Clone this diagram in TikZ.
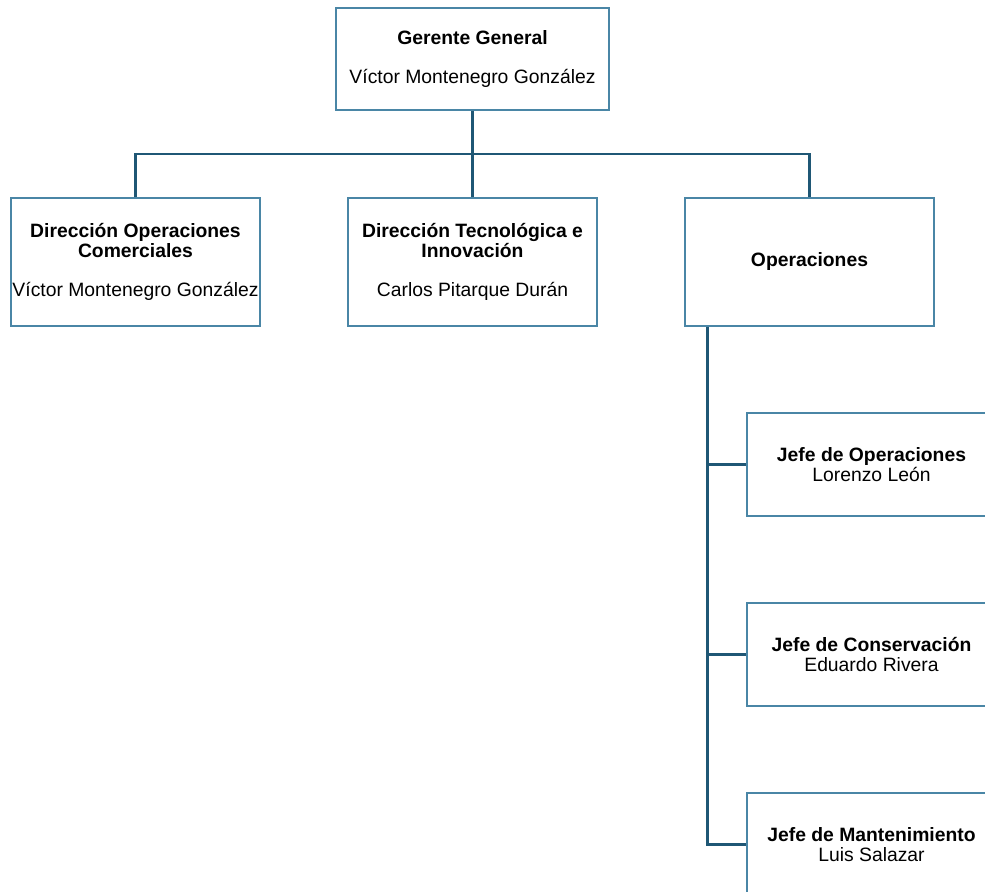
\documentclass[tikz,border=0pt]{standalone}
\usepackage{fontspec}
\setmainfont{Liberation Sans}
\usepackage{tikz}
\definecolor{boxline}{RGB}{74,134,166}
\definecolor{linkline}{RGB}{31,87,117}

\begin{document}
\begin{tikzpicture}[
            x=0.02cm, y=-0.02cm,
            every node/.append style={black,font=\fontsize{11}{11.4}\selectfont},
            orgbox/.style={draw=boxline,line width=0.9pt,fill=white,align=center,inner sep=0pt,
                minimum width=4.98cm,minimum height=2.56cm},
            topbox/.style={orgbox,minimum width=5.46cm,minimum height=2.04cm},
            jefebox/.style={orgbox,minimum height=2.06cm},
            link/.style={linkline,line width=1.7pt}
        ]
            \clip (0,0) rectangle (985,892);
            \fill [white] (0,0) rectangle (985,892);
            \node [topbox] (gg) at (472.5,59)
                {\textbf{Gerente General}\\[0.38cm]Víctor Montenegro González};
            \node [orgbox] (doc) at (135.5,262)
                {\textbf{Dirección Operaciones}\\\textbf{Comerciales}\\[0.38cm]Víctor Montenegro González};
            \node [orgbox] (dti) at (472.5,262)
                {\textbf{Dirección Tecnológica e}\\\textbf{Innovación}\\[0.38cm]Carlos Pitarque Durán};
            \node [orgbox] (ops) at (809.5,262) {\textbf{Operaciones}};
            \node [jefebox] (jop) at (871.5,464.5)
                {\textbf{Jefe de Operaciones}\\Lorenzo León};
            \node [jefebox] (jco) at (871.5,654.5)
                {\textbf{Jefe de Conservación}\\Eduardo Rivera};
            \node [jefebox] (jmt) at (871.5,844.5)
                {\textbf{Jefe de Mantenimiento}\\Luis Salazar};
            \coordinate (bus) at (472.5,154);
            \coordinate (spine) at ([xshift=0.46cm]ops.south west);
            \draw [link] (gg.south) -- (dti.north);
            \draw [link] (doc.north) |- (bus) -| (ops.north);
            \draw [link] (spine) |- (jmt.west);
            \draw [link] (jop.west) -- (jop.west -| spine);
            \draw [link] (jco.west) -- (jco.west -| spine);
        \end{tikzpicture}
\end{document}
